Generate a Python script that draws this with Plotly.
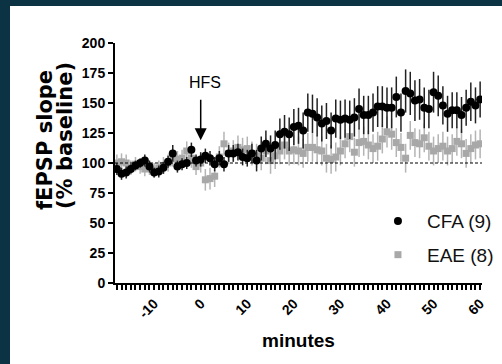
import plotly.graph_objects as go

minutes = list(range(-18, 61))

cfa = [95, 91, 92, 95, 98, 100, 102, 97, 92, 93,
       96, 101, 108, 97, 99, 100, 111, 102, 103, 106,
       104, 99, 104, 99, 108, 108, 109, 105, 104, 108,
       102, 112, 116, 112, 115, 124, 126, 124, 130, 131,
       127, 142, 141, 138, 133, 135, 127, 137, 136, 137,
       136, 138, 145, 140, 140, 142, 147, 147, 146, 146,
       155, 142, 160, 158, 152, 153, 146, 145, 159, 156,
       148, 141, 144, 144, 140, 146, 151, 148, 153]
cfa_err = [5, 5, 5, 4, 4, 4, 5, 5, 4, 5,
           5, 5, 7, 5, 5, 5, 6, 5, 6, 6,
           6, 6, 6, 6, 7, 7, 7, 7, 7, 8,
           9, 10, 11, 11, 12, 13, 14, 14, 15, 15,
           15, 16, 16, 16, 15, 15, 15, 16, 16, 16,
           16, 16, 17, 16, 16, 16, 17, 17, 17, 17,
           17, 16, 18, 18, 17, 17, 17, 16, 17, 17,
           16, 15, 15, 15, 15, 15, 16, 15, 15]

eae = [100, 101, 100, 96, 99, 97, 95, 96, 94, 96,
       98, 100, 104, 103, 104, 110, 104, 97, 100, 86,
       87, 89, 105, 116, 108, 110, 113, 111, 112, 108,
       106, 104, 110, 102, 106, 110, 115, 110, 111, 110,
       108, 113, 113, 111, 110, 104, 103, 105, 110, 116,
       122, 109, 117, 118, 115, 112, 114, 120, 126, 124,
       117, 113, 104, 123, 117, 116, 121, 114, 110, 112,
       114, 110, 112, 118, 116, 108, 112, 115, 116]
eae_err = [7, 7, 7, 6, 6, 6, 6, 6, 6, 6,
           7, 7, 7, 7, 7, 8, 8, 7, 8, 9,
           9, 9, 9, 10, 9, 9, 10, 10, 10, 10,
           10, 10, 11, 11, 11, 11, 12, 12, 12, 12,
           12, 12, 12, 12, 12, 12, 12, 12, 12, 12,
           13, 12, 12, 12, 12, 12, 12, 12, 13, 13,
           12, 12, 12, 12, 12, 12, 12, 12, 12, 12,
           12, 12, 12, 12, 12, 12, 12, 12, 12]

y_ticks = [0, 25, 50, 75, 100, 125, 150, 175, 200]
x_ticks = [-10, 0, 10, 20, 30, 40, 50, 60]

TEAL = "#0c3343"
FONT = "Arial, Liberation Sans, sans-serif"
WIDE = "DejaVu Sans, Liberation Sans, sans-serif"

fig = go.Figure()
fig.add_trace(go.Scatter(
    x=minutes, y=eae, mode="markers", name="EAE (8)", legendrank=2, legendgroup="eae",
    marker=dict(symbol="square", size=7, color="#a8a8a8"),
    error_y=dict(type="data", array=eae_err, color="#b4b4b4", thickness=1.5, width=0),
))
fig.add_trace(go.Scatter(
    x=minutes, y=cfa, mode="markers", name="CFA (9)", legendrank=1, legendgroup="cfa",
    marker=dict(symbol="circle", size=8, color="black"),
    error_y=dict(type="data", array=cfa_err, color="#222222", thickness=1.5, width=0),
))

fig.update_layout(
    width=502, height=364,
    margin=dict(l=115, r=20, t=43, b=81, autoexpand=False),
    paper_bgcolor=TEAL,
    plot_bgcolor="rgba(0,0,0,0)",
    font=dict(family=FONT, color="black"),
    showlegend=True,
    legend=dict(x=0.692, y=0.337, xanchor="left", yanchor="top",
                font=dict(size=19, family=FONT, color="#111111"),
                bgcolor="rgba(0,0,0,0)", itemwidth=48,
                traceorder="grouped", tracegroupgap=6),
    xaxis=dict(range=[-18.4, 60.4], showgrid=False, zeroline=False,
               showline=True, linecolor="black", linewidth=2,
               tickmode="array", tickvals=x_ticks, ticktext=[str(v) for v in x_ticks],
               ticks="outside", ticklen=5, tickwidth=1.5, tickcolor="black",
               tickangle=-45, tickfont=dict(size=14, family=FONT, color="black", weight="bold"),
               minor=dict(dtick=1, tick0=0, ticks="outside", ticklen=5, tickwidth=1.5,
                          tickcolor="black", showgrid=False)),
    yaxis=dict(range=[0, 200], showgrid=False, zeroline=False,
               showline=True, linecolor="black", linewidth=2,
               tickmode="array", tickvals=y_ticks,
               ticks="outside", ticklen=5, tickwidth=1.5, tickcolor="black",
               tickfont=dict(size=14, family=FONT, color="black", weight="bold")),
)

# white panel on top of teal frame
fig.add_shape(type="rect", xref="paper", yref="paper",
              x0=-0.2861, x1=1.2, y0=-0.5, y1=1.1542,
              fillcolor="white", line=dict(width=0), layer="below")

# baseline dashed line
fig.add_shape(type="line", xref="paper", yref="y", x0=0, x1=1, y0=100, y1=100,
              line=dict(color="black", width=1, dash="3px,2px"))

# HFS arrow
fig.add_annotation(x=0, y=119, ax=0, ay=154, xref="x", yref="y", axref="x", ayref="y",
                   text="", showarrow=True, arrowhead=2, arrowsize=1.6, arrowwidth=1.5,
                   arrowcolor="black")
fig.add_annotation(x=1, y=167, xref="x", yref="y", text="HFS", showarrow=False,
                   xanchor="center", yanchor="middle",
                   font=dict(size=16, family=FONT, color="black"))

# axis titles
fig.add_annotation(x=-0.1907, y=0.5958, xref="paper", yref="paper",
                   text="fEPSP slope", textangle=-90, showarrow=False,
                   xanchor="center", yanchor="middle",
                   font=dict(size=21, family=WIDE, color="black", weight="bold"))
fig.add_annotation(x=-0.1362, y=0.6125, xref="paper", yref="paper",
                   text="(% baseline)", textangle=-90, showarrow=False,
                   xanchor="center", yanchor="middle",
                   font=dict(size=21, family=WIDE, color="black", weight="bold"))
fig.add_annotation(x=0.5, y=-0.2375, xref="paper", yref="paper", text="minutes",
                   showarrow=False, xanchor="center", yanchor="middle",
                   font=dict(size=19, family=FONT, color="black", weight="bold"))

fig.write_html("out.html",
               config={"displayModeBar": False},
               post_script="document.body.style.margin='0px';document.body.style.overflow='hidden';")
